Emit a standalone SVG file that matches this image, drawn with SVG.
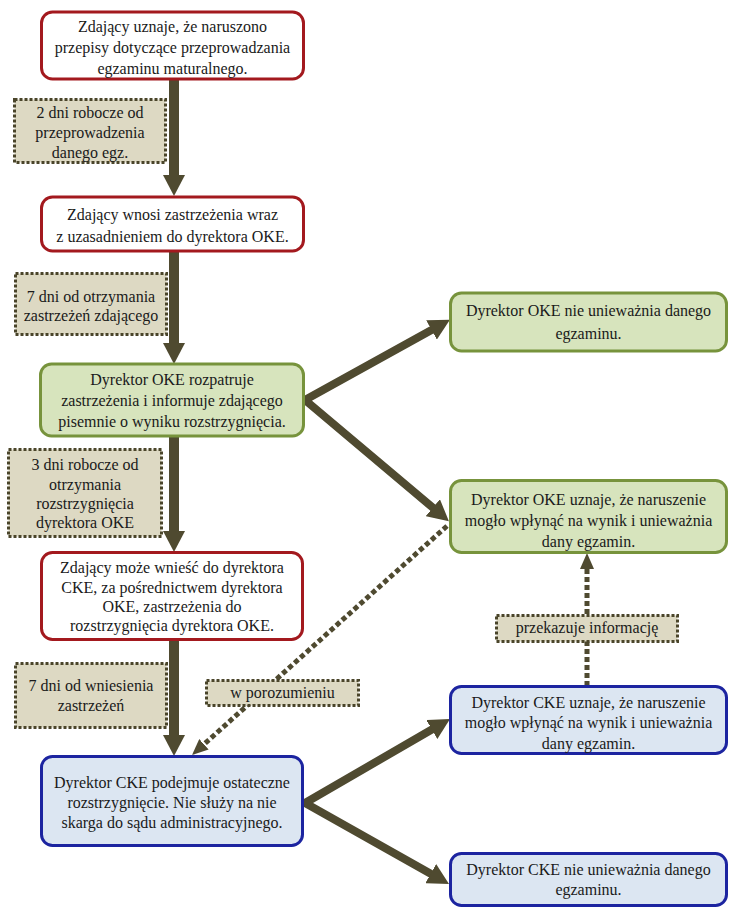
<svg xmlns="http://www.w3.org/2000/svg" width="736" height="915" viewBox="0 0 736 915">
<defs>
<style>
text{font-family:'Liberation Serif','DejaVu Serif','Times New Roman',serif;font-size:16px;fill:#1a1a1a;text-anchor:middle}
.red{fill:#ffffff;stroke:#a3191e;stroke-width:3}
.grn{fill:#d7e4bd;stroke:#77933c;stroke-width:3}
.blu{fill:#dce6f2;stroke:#1c24a0;stroke-width:3}
.lab{fill:#ddd9c3;stroke:#4a452a;stroke-width:3;stroke-dasharray:3 2}
.sol{fill:none;stroke:#4f4a30;stroke-linejoin:miter}
.dot{fill:none;stroke:#4f4a30;stroke-width:5;stroke-dasharray:5 3}
</style>
<marker id="ah" markerUnits="userSpaceOnUse" markerWidth="21" markerHeight="22" refX="1" refY="11" orient="auto-start-reverse" viewBox="0 0 21 22">
<path d="M0,0 L21,11 L0,22 z" fill="#4f4a30"/>
</marker>
<marker id="ahd" markerUnits="userSpaceOnUse" markerWidth="16" markerHeight="14" refX="1" refY="7" orient="auto" viewBox="0 0 16 14">
<path d="M0,0 L16,7 L0,14 z" fill="#4f4a30"/>
</marker>
</defs>
<rect width="736" height="915" fill="#ffffff"/>

<g id="connectors">
<line class="sol" x1="174" y1="80" x2="174" y2="176" stroke-width="10" marker-end="url(#ah)"/>
<line class="sol" x1="174" y1="252" x2="174" y2="344" stroke-width="10" marker-end="url(#ah)"/>
<line class="sol" x1="174" y1="436" x2="174" y2="532" stroke-width="10" marker-end="url(#ah)"/>
<line class="sol" x1="174" y1="640" x2="174" y2="736" stroke-width="10" marker-end="url(#ah)"/>
<path class="sol" d="M432.4,329.5 L305,400 L433.6,508.3" stroke-width="8" marker-start="url(#ah)" marker-end="url(#ah)"/>
<path class="sol" d="M432.7,729 L305,803 L431.6,874.2" stroke-width="8" marker-start="url(#ah)" marker-end="url(#ah)"/>
<line class="dot" x1="447" y1="526" x2="203.2" y2="745" marker-end="url(#ahd)"/>
<line class="dot" x1="587" y1="686" x2="587" y2="568" marker-end="url(#ahd)"/>
</g>

<g id="n1">
<rect class="red" x="41.5" y="12" width="262" height="67" rx="11"/>
<text x="172.5" y="32" font-family="Liberation Serif, serif">Zdający uznaje, że naruszono</text>
<text x="172.5" y="53" font-family="Liberation Serif, serif">przepisy dotyczące przeprowadzania</text>
<text x="172.5" y="74" font-family="Liberation Serif, serif">egzaminu maturalnego.</text>
</g>
<g id="l1">
<rect class="lab" x="14.5" y="99.5" width="151" height="63"/>
<text x="90" y="118">2 dni robocze od</text>
<text x="90" y="138">przeprowadzenia</text>
<text x="90" y="158">danego egz.</text>
</g>
<g id="n2">
<rect class="red" x="41.5" y="197" width="262" height="54" rx="11"/>
<text x="172.5" y="220">Zdający wnosi zastrzeżenia wraz</text>
<text x="172.5" y="242">z uzasadnieniem do dyrektora OKE.</text>
</g>
<g id="l2">
<rect class="lab" x="15.5" y="273.5" width="151" height="61"/>
<text x="91" y="302">7 dni od otrzymania</text>
<text x="91" y="321">zastrzeżeń zdającego</text>
</g>
<g id="n3">
<rect class="grn" x="40.5" y="364" width="263" height="72" rx="11"/>
<text x="172" y="385">Dyrektor OKE rozpatruje</text>
<text x="172" y="406">zastrzeżenia i informuje zdającego</text>
<text x="172" y="427">pisemnie o wyniku rozstrzygnięcia.</text>
</g>
<g id="n4">
<rect class="grn" x="450.5" y="293" width="276" height="58" rx="11"/>
<text x="588.5" y="316">Dyrektor OKE nie unieważnia danego</text>
<text x="588.5" y="339">egzaminu.</text>
</g>
<g id="n5">
<rect class="grn" x="450.5" y="480.5" width="276" height="72" rx="11"/>
<text x="588.5" y="505">Dyrektor OKE uznaje, że naruszenie</text>
<text x="588.5" y="526">mogło wpłynąć na wynik i unieważnia</text>
<text x="588.5" y="547">dany egzamin.</text>
</g>
<g id="l3">
<rect class="lab" x="8.5" y="449.5" width="153" height="87"/>
<text x="85" y="470">3 dni robocze od</text>
<text x="85" y="490">otrzymania</text>
<text x="85" y="509">rozstrzygnięcia</text>
<text x="85" y="528">dyrektora OKE</text>
</g>
<g id="n6">
<rect class="red" x="41.5" y="552.5" width="261" height="87" rx="11"/>
<text x="172" y="573">Zdający może wnieść do dyrektora</text>
<text x="172" y="593">CKE, za pośrednictwem dyrektora</text>
<text x="172" y="612">OKE, zastrzeżenia do</text>
<text x="172" y="631">rozstrzygnięcia dyrektora OKE.</text>
</g>
<g id="l4">
<rect class="lab" x="15.5" y="663.5" width="151" height="64"/>
<text x="91" y="691">7 dni od wniesienia</text>
<text x="91" y="711">zastrzeżeń</text>
</g>
<g id="l5">
<rect class="lab" x="206.5" y="680.5" width="152" height="25"/>
<text x="282.5" y="698">w porozumieniu</text>
</g>
<g id="l6">
<rect class="lab" x="496.5" y="615.5" width="181" height="26"/>
<text x="587" y="633">przekazuje informację</text>
</g>
<g id="n7">
<rect class="blu" x="41.5" y="756.5" width="261" height="89" rx="11"/>
<text x="172" y="788">Dyrektor CKE podejmuje ostateczne</text>
<text x="172" y="808">rozstrzygnięcie. Nie służy na nie</text>
<text x="172" y="828">skarga do sądu administracyjnego.</text>
</g>
<g id="n8">
<rect class="blu" x="450.5" y="686.5" width="276" height="67" rx="11"/>
<text x="588.5" y="708">Dyrektor CKE uznaje, że naruszenie</text>
<text x="588.5" y="728">mogło wpłynąć na wynik i unieważnia</text>
<text x="588.5" y="749">dany egzamin.</text>
</g>
<g id="n9">
<rect class="blu" x="450.5" y="853.5" width="276" height="52" rx="11"/>
<text x="588.5" y="875">Dyrektor CKE nie unieważnia danego</text>
<text x="588.5" y="895">egzaminu.</text>
</g>
</svg>
